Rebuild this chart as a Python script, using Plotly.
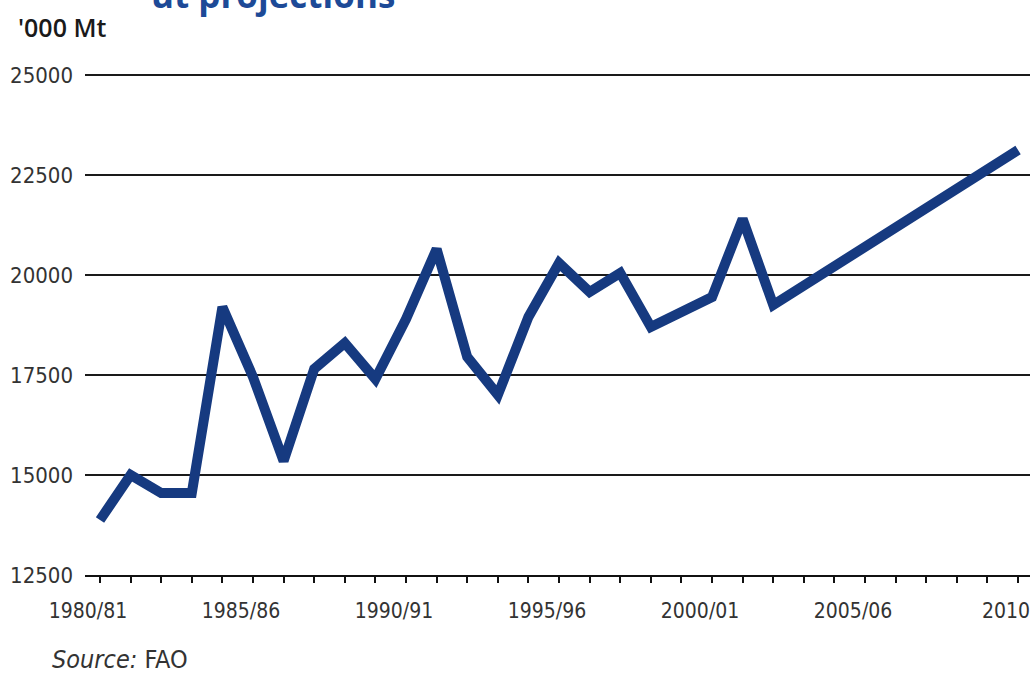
import plotly.graph_objects as go

years = [1980, 1981, 1982, 1983, 1984, 1985, 1986, 1987, 1988, 1989, 1990,
         1991, 1992, 1993, 1994, 1995, 1996, 1997, 1998, 1999, 2000, 2001,
         2002, 2010]
values = [13875, 15000, 14550, 14550, 19200, 17450, 15350, 17650, 18300, 17400,
          18900, 20650, 17950, 17000, 18950, 20300, 19575, 20050, 18700, 19075,
          19450, 21400, 19250, 23125]

x_tick_vals = [1980, 1985, 1990, 1995, 2000, 2005, 2010]
x_tick_text = ["1980/81", "1985/86", "1990/91", "1995/96", "2000/01", "2005/06", "2010"]
y_tick_vals = [12500, 15000, 17500, 20000, 22500, 25000]
y_tick_text = ["12500", "15000", "17500", "20000", "22500", "25000"]

W, H = 1033, 677
L, R, T, B = 85, 3, 73, 102
PH = H - T - B
PW = W - L - R

NARROW = "DejaVu Sans Condensed, Liberation Sans Narrow, sans-serif"


def py(pix):
    return (H - B - pix) / PH


def px(pix):
    return (pix - L) / PW


fig = go.Figure()
fig.add_trace(go.Scatter(
    x=years, y=values, mode="lines",
    line=dict(color="#163a80", width=10),
    hoverinfo="skip", showlegend=False,
))

fig.update_layout(
    width=W, height=H,
    margin=dict(l=L, r=R, t=T, b=B, pad=0, autoexpand=False),
    paper_bgcolor="white", plot_bgcolor="white",
    font=dict(family=NARROW, color="#333333"),
    xaxis=dict(
        range=[1979.51, 2010.39], automargin=False,
        tickmode="array", tickvals=x_tick_vals, ticktext=x_tick_text,
        ticks="outside", ticklen=6, tickwidth=2, tickcolor="#111111",
        minor=dict(dtick=1, tick0=1980, ticks="outside", ticklen=6,
                   tickwidth=2, tickcolor="#111111", showgrid=False),
        showline=True, linecolor="#111111", linewidth=2,
        showgrid=False, zeroline=False,
        tickfont=dict(size=21, color="#333333", family=NARROW),
        ticklabelshift=-12, ticklabelstandoff=10,
        ticklabeloverflow="allow",
    ),
    yaxis=dict(
        range=[12500, 25050], automargin=False,
        tickmode="array", tickvals=y_tick_vals, ticktext=y_tick_text,
        showgrid=True, gridcolor="#1a1a1a", gridwidth=1.6,
        zeroline=False, showline=False, ticks="",
        tickfont=dict(size=22, color="#333333", family=NARROW),
        ticklabelstandoff=11,
    ),
    annotations=[
        dict(text="'000 Mt", xref="paper", yref="paper",
             x=px(16), y=py(27),
             xanchor="left", yanchor="middle", showarrow=False,
             font=dict(size=25, color="#1a1a1a", family="Open Sans", weight=600)),
        dict(text="<i>Source:</i> FAO", xref="paper", yref="paper",
             x=px(50), y=py(659),
             xanchor="left", yanchor="middle", showarrow=False,
             font=dict(size=25, color="#333333", family=NARROW)),
        dict(text="ut projections", xref="paper", yref="paper",
             x=px(149), y=py(-5),
             xanchor="left", yanchor="middle", showarrow=False,
             font=dict(size=35, color="#1d4a97", family="Open Sans", weight=700)),
    ],
)

fig.write_html("out.html", config={"displayModeBar": False},
               post_script="document.body.style.margin='0';document.body.style.padding='0';")
